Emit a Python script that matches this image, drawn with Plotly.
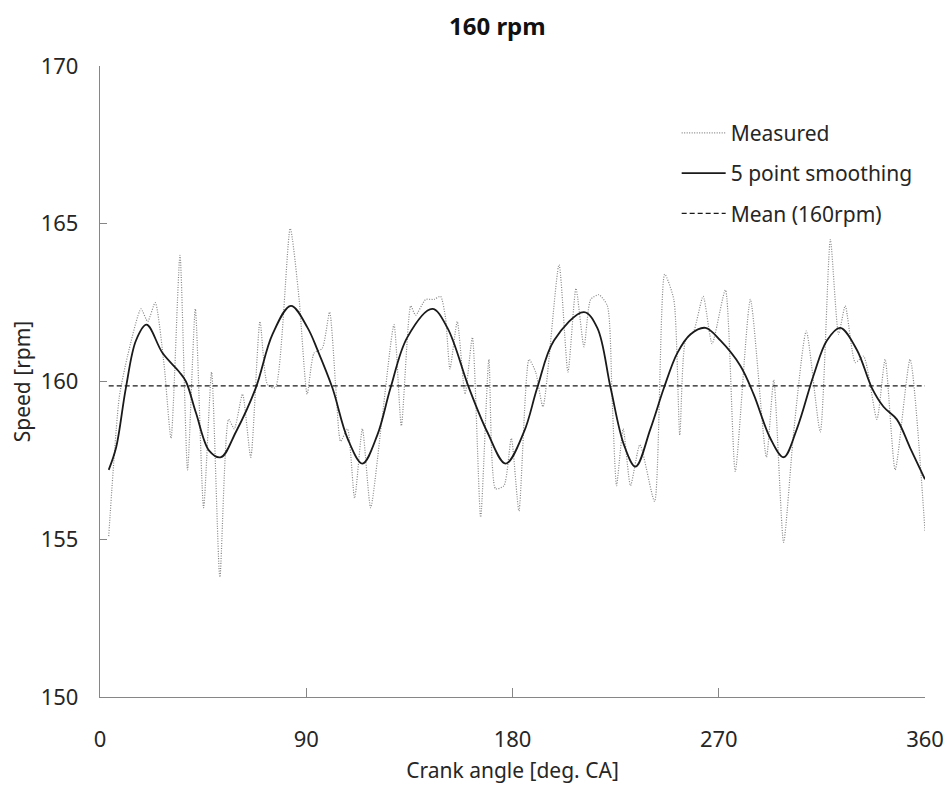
import plotly.graph_objects as go

# Measured crank-angle speed
measured_angle = [3.8, 8.4, 12.0, 17.9, 20.8, 24.1, 28.0, 31.0, 34.9, 38.2, 41.6, 45.2, 48.7, 52.3,
                  56.1, 58.6, 62.2, 65.8, 69.8, 73.1, 76.5, 83.0, 86.9, 90.4, 93.4, 97.0, 100.2,
                  102.9, 105.0, 108.0, 111.1, 114.5, 118.1, 123.2, 128.3, 131.5, 135.6, 137.7,
                  142.1, 145.7, 148.6, 150.8, 152.7, 155.9, 159.3, 162.5, 166.1, 169.7, 172.6,
                  176.3, 179.5, 182.8, 187.2, 190.1, 193.3, 200.3, 204.2, 207.7, 211.2, 214.1,
                  217.7, 221.4, 223.5, 225.4, 228.3, 231.5, 235.6, 242.0, 246.4, 250.4, 253.0,
                  255.5, 259.1, 263.2, 267.1, 272.9, 277.2, 283.8, 290.8, 294.0, 298.3, 302.7,
                  308.2, 314.3, 318.7, 322.3, 325.2, 329.6, 333.2, 339.0, 342.6, 347.0, 353.5, 360.0]
measured_speed = [155.1, 159.5, 160.8, 162.3, 161.9, 162.5, 160.5, 158.2, 164.0, 157.2, 162.3, 156.0,
                  160.3, 153.8, 158.8, 158.5, 159.6, 157.6, 161.9, 159.9, 159.8, 164.85, 162.6,
                  159.6, 160.9, 161.05, 162.2, 159.8, 158.1, 158.5, 156.3, 158.5, 156.0, 158.9,
                  161.8, 158.6, 162.4, 162.1, 162.6, 162.6, 162.7, 162.0, 160.4, 161.9, 159.6,
                  161.4, 155.7, 160.7, 156.6, 156.7, 158.2, 155.9, 160.7, 160.3, 159.2, 163.7,
                  160.3, 162.95, 161.1, 162.6, 162.75, 162.4, 159.4, 156.7, 158.5, 156.7, 158.0,
                  156.2, 163.4, 162.6, 158.3, 161.3, 161.6, 162.7, 161.2, 162.9, 157.15, 162.6,
                  157.6, 160.05, 154.9, 158.4, 161.6, 158.4, 164.5, 161.5, 162.4, 160.6, 160.8,
                  158.8, 160.7, 157.2, 160.7, 155.25]

# 5 point smoothing
smooth_angle = [3.8, 7.0, 11.3, 15.7, 20.3, 27.3, 34.6, 37.5, 41.9, 47.7, 52.8, 59.3, 68.0, 75.3,
                83.3, 90.6, 94.9, 101.4, 108.0, 114.5, 121.0, 126.8, 134.1, 145.0, 151.6, 161.0,
                169.0, 177.0, 185.0, 190.8, 198.1, 211.2, 217.0, 222.8, 228.6, 233.7, 240.2,
                246.1, 251.9, 257.7, 264.2, 270.7, 279.4, 285.2, 292.5, 298.3, 304.1, 311.4,
                317.2, 323.0, 330.3, 336.8, 341.9, 347.7, 353.5, 360.0]
smooth_speed = [157.2, 157.9, 159.8, 161.3, 161.8, 160.9, 160.3, 160.0, 159.0, 157.8, 157.6, 158.4,
                159.8, 161.5, 162.4, 161.7, 161.0, 159.8, 158.2, 157.4, 158.3, 159.8, 161.4,
                162.3, 161.7, 159.8, 158.4, 157.4, 158.4, 159.8, 161.3, 162.2, 161.7, 159.8,
                158.0, 157.3, 158.5, 159.8, 160.9, 161.5, 161.7, 161.3, 160.5, 159.6, 158.2,
                157.6, 158.5, 160.2, 161.3, 161.7, 161.0, 159.8, 159.2, 158.8, 157.9, 156.9]

mean_speed = 159.86
mean_angle = [3.8, 360.0]

x_ticks = [0, 90, 180, 270, 360]
y_ticks = [150, 155, 160, 165, 170]

FONT = "Noto Sans"
TXT = "#262626"

fig = go.Figure()
fig.add_trace(go.Scatter(
    x=measured_angle, y=measured_speed, mode="lines", name="Measured",
    line=dict(color="#858585", width=1.2, dash="1px,1.5px", shape="spline", smoothing=0.6),
    legendgroup="a"))
fig.add_trace(go.Scatter(
    x=smooth_angle, y=smooth_speed, mode="lines", name="5 point smoothing",
    line=dict(color="#1a1a1a", width=1.8, shape="spline", smoothing=1.0),
    legendgroup="b"))
fig.add_trace(go.Scatter(
    x=mean_angle, y=[mean_speed, mean_speed], mode="lines", name="Mean (160rpm)",
    line=dict(color="#1a1a1a", width=1.3, dash="5px,3px"),
    legendgroup="c"))

fig.update_layout(
    width=952, height=789,
    paper_bgcolor="white", plot_bgcolor="white",
    margin=dict(l=92, r=35, t=58, b=100, autoexpand=False),
    title=dict(text="<b>160 rpm</b>", x=0.514, xanchor="center", y=0.976, yanchor="middle",
               font=dict(family=FONT, size=24, color="#111111")),
    font=dict(family=FONT, color=TXT),
    showlegend=True,
    legend=dict(x=0.699, y=0.926, xanchor="left", yanchor="top",
                font=dict(family=FONT, size=21, color=TXT),
                bgcolor="rgba(0,0,0,0)", traceorder="grouped", tracegroupgap=10,
                itemwidth=44),
)
fig.update_xaxes(
    range=[0, 360], tickmode="array", tickvals=x_ticks, ticktext=[str(v) for v in x_ticks],
    showgrid=False, zeroline=False, showline=True, linecolor="#868686", linewidth=1.3,
    ticks="inside", ticklen=9, tickcolor="#868686", ticklabelstandoff=22, automargin=False,
    tickfont=dict(family=FONT, size=22, color=TXT),
    title=dict(text="Crank angle [deg. CA]", font=dict(family=FONT, size=21, color=TXT), standoff=11),
)
fig.update_yaxes(
    range=[150, 170], tickmode="array", tickvals=y_ticks, ticktext=[str(v) for v in y_ticks],
    showgrid=False, zeroline=False, showline=True, linecolor="#868686", linewidth=1.3,
    ticks="inside", ticklen=7, tickcolor="#868686", ticklabelstandoff=16, automargin=False,
    tickfont=dict(family=FONT, size=22, color=TXT),
    title=dict(text="Speed [rpm]", font=dict(family=FONT, size=21, color=TXT), standoff=9),
)

fig.write_html("out.html")
